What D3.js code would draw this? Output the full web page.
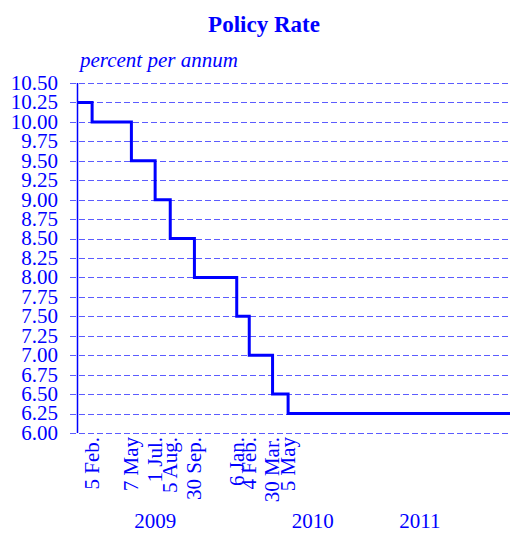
<!DOCTYPE html>
<html>
<head>
<meta charset="utf-8">
<script src="https://cdn.jsdelivr.net/npm/d3@7"></script>
<style>
  body { margin: 0; background: #fff; }
  text { font-family: "Liberation Serif", "Times New Roman", serif; fill: #0000ff; }
</style>
</head>
<body>
<svg id="chart" width="510" height="533"></svg>
<script>
// policy rate changes (date, rate in percent)
var changeDates = ["2009-01-01", "2009-02-05", "2009-05-07", "2009-07-01", "2009-08-05", "2009-09-30",
                   "2010-01-06", "2010-02-04", "2010-03-30", "2010-05-05", "2011-10-01"];
var rates = [10.25, 10.00, 9.50, 9.00, 8.50, 8.00, 7.50, 7.00, 6.50, 6.25, 6.25];
var dateLabels = ["5 Feb.", "7 May", "1 Jul.", "5 Aug.", "30 Sep.", "6 Jan.", "4 Feb.", "30 Mar.", "5 May"];
var years = ["2009", "2010", "2011"];
var yearCenters = ["2009-07-01", "2010-07-01", "2011-03-06"];
var yTicks = d3.range(0, 19).map(function(i) { return 6 + i * 0.25; });

var parse = d3.timeParse("%Y-%m-%d");
var data = changeDates.map(function(d, i) { return {date: parse(d), rate: rates[i]}; });

var svg = d3.select("#chart");
var x = d3.scaleTime().domain([parse("2009-01-01"), parse("2011-10-01")]).range([77, 510]);
var y = d3.scaleLinear().domain([6, 10.5]).range([433, 83]);

svg.append("text")
    .attr("x", 264).attr("y", 32)
    .attr("text-anchor", "middle")
    .style("font-size", "23px").style("font-weight", "bold")
    .text("Policy Rate");

svg.append("text")
    .attr("x", 80).attr("y", 67)
    .style("font-size", "21px").style("font-style", "italic")
    .text("percent per annum");

// gridlines
svg.append("g").selectAll("line")
    .data(yTicks)
    .enter().append("line")
    .attr("x1", 70).attr("x2", 510)
    .attr("y1", function(d) { return Math.round(y(d)) + 0.5; })
    .attr("y2", function(d) { return Math.round(y(d)) + 0.5; })
    .attr("stroke", "#5c5cff")
    .attr("stroke-width", 1)
    .attr("stroke-dasharray", "6,3");

svg.append("g").selectAll("text")
    .data(yTicks)
    .enter().append("text")
    .attr("x", 58)
    .attr("y", function(d) { return y(d); })
    .attr("dy", "0.33em")
    .attr("text-anchor", "end")
    .style("font-size", "21px")
    .text(function(d) { return d3.format(".2f")(d); });

svg.append("line")
    .attr("x1", 77.5).attr("x2", 77.5)
    .attr("y1", y(10.5)).attr("y2", y(6))
    .attr("stroke", "#0000ff").attr("stroke-width", 1.5);

var line = d3.line()
    .x(function(d) { return x(d.date); })
    .y(function(d) { return y(d.rate); })
    .curve(d3.curveStepAfter);

svg.append("path")
    .datum(data)
    .attr("fill", "none")
    .attr("stroke", "#0000ff")
    .attr("stroke-width", 3)
    .attr("d", line);

// rotated dates of each change
svg.append("g").selectAll("text")
    .data(data.slice(1, 10))
    .enter().append("text")
    .attr("transform", function(d) { return "translate(" + x(d.date) + ",437) rotate(-90)"; })
    .attr("dy", "0.33em")
    .attr("text-anchor", "end")
    .style("font-size", "21px")
    .text(function(d, i) { return dateLabels[i]; });

svg.append("g").selectAll("text")
    .data(years)
    .enter().append("text")
    .attr("x", function(d, i) { return x(parse(yearCenters[i])); })
    .attr("y", 528)
    .attr("text-anchor", "middle")
    .style("font-size", "21px")
    .text(function(d) { return d; });
</script>
</body>
</html>
